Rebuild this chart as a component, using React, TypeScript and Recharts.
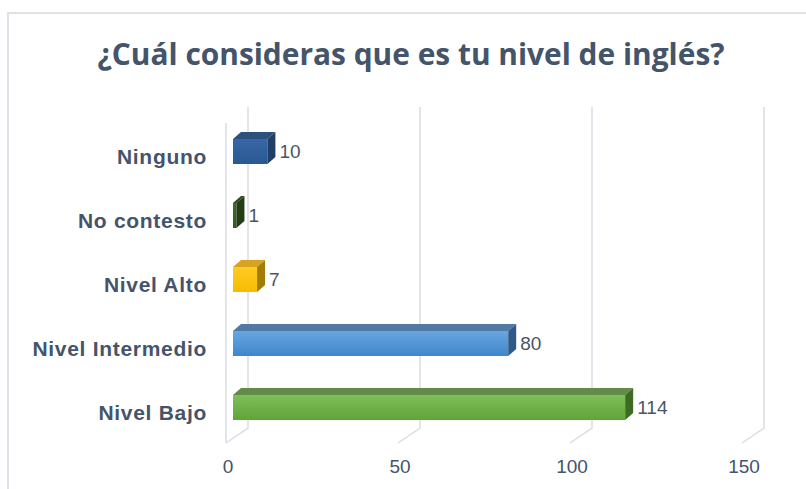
import React from "react";
import { BarChart, Bar, XAxis, YAxis, CartesianGrid, Cell, LabelList } from "recharts";

const categories = ["Ninguno", "No contesto", "Nivel Alto", "Nivel Intermedio", "Nivel Bajo"];
const counts = [10, 1, 7, 80, 114];
const xTicks = [0, 50, 100, 150];

// front gradient (top, bottom), top face, side face
const palette = [
  { hi: "#3767a7", lo: "#2a5891", top: "#2c4f7c", side: "#203e66" },
  { hi: "#3e6c2b", lo: "#33581f", top: "#2c4a1c", side: "#243d17" },
  { hi: "#ffcc22", lo: "#f5bc00", top: "#d7a422", side: "#a27b08" },
  { hi: "#69a6e0", lo: "#3f86cc", top: "#5079a4", side: "#2f5a88" },
  { hi: "#7fbe5a", lo: "#60a438", top: "#628a49", side: "#3d6b24" },
];

const data = categories.map((name, i) => ({ name, value: counts[i] }));

const DX = 8;
const DY = 7;
const GRID = "#d9dee5";
const TEXT = "#44546a";

function Box3D(props: any) {
  const { x, y, width, height, index } = props;
  const p = palette[index];
  const w = Math.max(width, 0);
  return (
    <g>
      <rect x={x} y={y} width={w} height={height} fill={`url(#front${index})`} />
      <path
        d={`M${x},${y} L${x + DX},${y - DY} L${x + w + DX},${y - DY} L${x + w},${y} Z`}
        fill={p.top}
      />
      <path
        d={`M${x + w},${y} L${x + w + DX},${y - DY} L${x + w + DX},${y + height - DY} L${x + w},${y + height} Z`}
        fill={p.side}
      />
    </g>
  );
}

function GridLine(props: any) {
  const { x1, y1, y2, index } = props;
  const bx = x1 + 15;
  const fx = x1 - 7;
  return (
    <g key={`g-${index}-${x1}`}>
      <path
        d={`M${bx},${y1 - 12} L${bx},${y2 - 11} L${fx},${y2 + 4}`}
        fill="none"
        stroke={GRID}
        strokeWidth={1.5}
      />
      {index === 0 && (
        <line x1={fx} y1={y1 + 4} x2={fx} y2={y2 + 4} stroke={GRID} strokeWidth={1.5} />
      )}
    </g>
  );
}

function XTick(props: any) {
  const { x, y, payload } = props;
  return (
    <text x={x - 5} y={y + 34} textAnchor="middle" fontSize={19} fill={TEXT} fontFamily="Liberation Sans, Arial, sans-serif">
      {payload.value}
    </text>
  );
}

function YTick(props: any) {
  const { x, y, payload } = props;
  return (
    <text
      x={x - 26}
      y={y + 13}
      textAnchor="end"
      fontSize={21}
      fontWeight="bold"
      letterSpacing={0.7}
      fill={TEXT}
      fontFamily="Liberation Sans, Arial, sans-serif"
    >
      {payload.value}
    </text>
  );
}

export default function App() {
  return (
    <div style={{ position: "absolute", left: 0, top: 0, width: 806, height: 489, overflow: "hidden", background: "#fff" }}>
      <div
        style={{
          position: "absolute",
          left: 7,
          top: 12,
          width: 820,
          height: 500,
          borderTop: "2px solid #dde2e8",
          borderLeft: "2px solid #dde2e8",
        }}
      />
      <svg width={806} height={100} style={{ position: "absolute", left: 0, top: 0 }}>
        <text
          x={411}
          y={65}
          textAnchor="middle"
          fontSize={31}
          fontWeight="bold"
          fill={TEXT}
          fontFamily="Open Sans, sans-serif"
          textLength={627}
          lengthAdjust="spacingAndGlyphs"
        >
          ¿Cuál consideras que es tu nivel de inglés?
        </text>
      </svg>
      <div style={{ position: "absolute", left: 0, top: 0 }}>
        <BarChart
          width={806}
          height={489}
          data={data}
          layout="vertical"
          margin={{ top: 119, right: 57, bottom: 20, left: 0 }}
        >
          <defs>
            {palette.map((p, i) => (
              <linearGradient key={i} id={`front${i}`} x1="0" y1="0" x2="0" y2="1">
                <stop offset="0%" stopColor={p.hi} />
                <stop offset="100%" stopColor={p.lo} />
              </linearGradient>
            ))}
          </defs>
          <CartesianGrid horizontal={false} vertical={(p: any) => <GridLine {...p} />} />
          <XAxis
            type="number"
            domain={[0, 150]}
            ticks={xTicks}
            axisLine={false}
            tickLine={false}
            tickSize={0}
            tickMargin={0}
            height={30}
            tick={<XTick />}
            interval={0}
          />
          <YAxis
            type="category"
            dataKey="name"
            width={233}
            axisLine={false}
            tickLine={false}
            tickSize={0}
            tickMargin={0}
            tick={<YTick />}
            interval={0}
          />
          <Bar dataKey="value" barSize={25} shape={<Box3D />} isAnimationActive={false}>
            {data.map((d, i) => (
              <Cell key={d.name} fill={palette[i].hi} />
            ))}
            <LabelList
              dataKey="value"
              position="right"
              offset={12}
              fontSize={19}
              fill="#4a5566"
              fontFamily="Liberation Sans, Arial, sans-serif"
            />
          </Bar>
        </BarChart>
      </div>
    </div>
  );
}
